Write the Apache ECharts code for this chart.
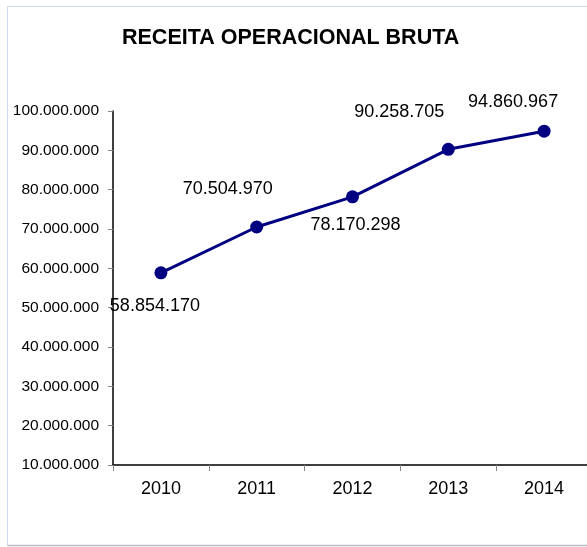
<!DOCTYPE html>
<html>
<head>
<meta charset="utf-8">
<script src="https://cdn.jsdelivr.net/npm/echarts@6/dist/echarts.min.js"></script>
<style>
  html, body { margin: 0; padding: 0; background: #fff; }
  #chart { width: 587px; height: 547px; }
</style>
</head>
<body>
<div id="chart"></div>
<script>
// dados
var anos = ['2010', '2011', '2012', '2013', '2014'];
var receita = [58854170, 70504970, 78170298, 90258705, 94860967];
// deslocamento dos rótulos em relação ao ponto
var labelOffsets = [[-6, 33], [-29, -38], [3, 28], [-49, -37], [-31, -29]];

function fmt(v) {
    return String(v).replace(/\B(?=(\d{3})+(?!\d))/g, '.');
}

var chart = echarts.init(document.getElementById('chart'));
var font = 'Liberation Sans, Arial, sans-serif';

var option = {
    animation: false,
    backgroundColor: '#fff',
    title: {
        text: 'RECEITA OPERACIONAL BRUTA',
        left: 117,
        top: 22,
        textStyle: { fontFamily: font, fontSize: 21.5, fontWeight: 'bold', color: '#000' }
    },
    graphic: [
        {
            type: 'rect',
            shape: { x: 7.5, y: 6.5, width: 620, height: 539 },
            style: { fill: 'none', stroke: '#cfdaee', lineWidth: 1 },
            silent: true
        },
        {
            type: 'line',
            shape: { x1: 7.5, y1: 545.5, x2: 587, y2: 545.5 },
            style: { stroke: '#b9bdc6', lineWidth: 1.5 },
            silent: true
        }
    ],
    grid: { left: 113, top: 111, width: 479, height: 354, outerBoundsMode: 'none', containLabel: false },
    xAxis: {
        type: 'category',
        data: anos,
        boundaryGap: true,
        axisLine: { lineStyle: { color: '#000', width: 1.5 } },
        axisTick: { show: true, length: 6, lineStyle: { color: '#888' } },
        axisLabel: { fontFamily: font, fontSize: 18, color: '#000', margin: 15 },
        splitLine: { show: false }
    },
    yAxis: {
        type: 'value',
        min: 10000000,
        max: 100000000,
        interval: 10000000,
        axisLine: { show: true, lineStyle: { color: '#000', width: 1.5 } },
        axisTick: { show: true, length: 5, lineStyle: { color: '#888' } },
        axisLabel: {
            fontFamily: font, fontSize: 15.5, color: '#000', margin: 14,
            formatter: function (v) { return fmt(v); }
        },
        splitLine: { show: false }
    },
    series: [{
        type: 'line',
        data: receita.map(function (v, i) {
            return {
                value: v,
                label: { position: 'inside', offset: labelOffsets[i] }
            };
        }),
        symbol: 'circle',
        symbolSize: 13,
        lineStyle: { color: '#000080', width: 3 },
        itemStyle: { color: '#000080' },
        label: {
            show: true,
            fontFamily: font,
            fontSize: 18,
            color: '#000',
            formatter: function (p) { return fmt(p.value); }
        }
    }]
};

chart.setOption(option);
</script>
</body>
</html>
